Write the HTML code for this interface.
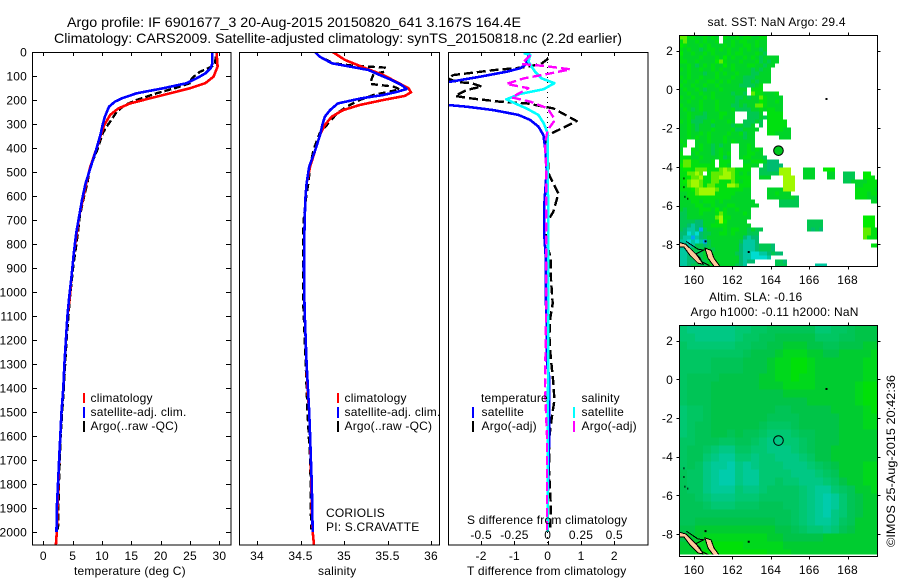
<!DOCTYPE html>
<html><head><meta charset="utf-8"><title>Argo profile</title>
<style>
html,body{margin:0;padding:0;background:#fff;width:900px;height:580px;overflow:hidden}
svg{display:block}
text{font-family:"Liberation Sans",sans-serif;font-size:12px;fill:#000;letter-spacing:.2px}
.t{font-size:14px;letter-spacing:0}
.n{letter-spacing:0}
</style></head>
<body>
<svg id="fig" xmlns="http://www.w3.org/2000/svg" width="900" height="580" viewBox="0 0 900 580">
<defs>
<clipPath id="cp1"><rect x="32" y="52" width="199" height="493"/></clipPath>
<clipPath id="cp2"><rect x="239.5" y="52" width="200" height="493"/></clipPath>
<clipPath id="cp3"><rect x="448.5" y="52" width="199.5" height="493"/></clipPath>
<clipPath id="cpm1"><rect x="679.5" y="35.5" width="198" height="231"/></clipPath>
<clipPath id="cpm2"><rect x="679.5" y="325.5" width="198" height="229"/></clipPath>
</defs>
<rect width="900" height="580" fill="#fff"/>
<text class="t" x="67" y="27" textLength="454" lengthAdjust="spacingAndGlyphs">Argo profile: IF 6901677_3 20-Aug-2015 20150820_641 3.167S 164.4E</text>
<text class="t" x="54" y="43" textLength="568" lengthAdjust="spacingAndGlyphs">Climatology: CARS2009. Satellite-adjusted climatology: synTS_20150818.nc (2.2d earlier)</text>
<g id="p1"></g>
<g id="p2"></g>
<g id="p3"></g>
<g id="m1"></g>
<g id="m2"></g>

<text x="74" y="575">temperature (deg C)</text>
<text x="318" y="575">salinity</text>
<text x="467" y="575">T difference from climatology</text>
<text x="467" y="524">S difference from climatology</text>

<g>
<rect x="83" y="393" width="2" height="10" fill="#f00"/>
<rect x="83" y="407" width="2" height="11" fill="#00f"/>
<rect x="83" y="421" width="2" height="11" fill="#000"/>
<text x="90.5" y="402">climatology</text>
<text x="90.5" y="416">satellite-adj. clim.</text>
<text x="90.5" y="430">Argo(..raw -QC)</text>
</g>
<g>
<rect x="337" y="393" width="2" height="10" fill="#f00"/>
<rect x="337" y="407" width="2" height="11" fill="#00f"/>
<rect x="337" y="421" width="2" height="11" fill="#000"/>
<text x="344.5" y="402">climatology</text>
<text x="344.5" y="416">satellite-adj. clim.</text>
<text x="344.5" y="430">Argo(..raw -QC)</text>
<text x="326" y="517">CORIOLIS</text>
<text x="326" y="531">PI: S.CRAVATTE</text>
</g>
<g>
<text x="481" y="402">temperature</text>
<text x="581.5" y="402">salinity</text>
<rect x="472" y="407" width="2" height="11" fill="#00f"/>
<rect x="472" y="421" width="2" height="11" fill="#000"/>
<rect x="573" y="407" width="2" height="11" fill="#0ff"/>
<rect x="573" y="421" width="2" height="11" fill="#f0f"/>
<text x="481.5" y="416">satellite</text>
<text x="481.5" y="430">Argo(-adj)</text>
<text x="581.5" y="416">satellite</text>
<text x="581.5" y="430">Argo(-adj)</text>
</g>

<text x="707.5" y="26">sat. SST: NaN Argo: 29.4</text>
<text x="709" y="301">Altim. SLA: -0.16</text>
<text x="690.5" y="316">Argo h1000: -0.11 h2000: NaN</text>
<text class="n" transform="translate(895,547) rotate(-90)" textLength="172" lengthAdjust="spacingAndGlyphs">©IMOS 25-Aug-2015 20:42:36</text>
</svg>
<script>
// ---------- profile data ----------
const tempTicks = [0,5,10,15,20,25,30];
const salTicks = [34,34.5,35,35.5,36];
const salTickLabels = ['34','34.5','35','35.5','36'];
const depthTicks = [0,100,200,300,400,500,600,700,800,900,1000,1100,1200,1300,1400,1500,1600,1700,1800,1900,2000];
const tDiffTicks = [-2,-1,0,1,2];
const sDiffTicks = [-0.5,-0.25,0,0.25,0.5];
const sDiffTickLabels = ['-0.5','-0.25','0','0.25','0.5'];

const tClimDepth = [0,61,103,130,151,172,193,214,235,262,304,339,408,478,547,617,686,755,839,936,1026,1100,1200,1300,1400,1500,1600,1700,1800,1900,2000,2054];
const tClimValues = [29.5,29.7,29.0,27.6,25,21.6,18.2,14.8,12.8,11.4,10.4,9.9,9,8,7.3,6.7,6.1,5.7,5.2,4.8,4.5,4.1,3.85,3.6,3.4,3.1,2.9,2.7,2.55,2.4,2.3,2.15];
const tSatDepth = [0,47,68,89,110,130,151,172,193,207,228,269,304,339,408,478,547,617,686,755,839,936,1026,1100,1200,1300,1400,1500,1600,1700,1800,1900,2000];
const tSatValues = [28.8,28.8,28.5,27.6,26.1,24.4,20.5,15.9,13.4,12.2,11.2,10.5,10.1,9.8,9,8.1,7.2,6.6,6.1,5.6,5.2,4.8,4.4,4.1,3.85,3.6,3.4,3.1,2.9,2.7,2.5,2.3,2.25];
const tArgoDepth = [20,54,68,82,110,130,151,172,186,200,221,249,283,311,339,408,478,547,617,686,755,894,1033,1200,1400,1600,1800,1990];
const tArgoValues = [29.4,29.2,28.1,26.7,25.3,25,22.4,19.3,17.6,15.9,13.9,12.5,11.6,10.8,10.1,9.2,8,7.5,6.8,6.2,5.9,5.1,4.5,3.95,3.5,2.95,2.65,2.5];

const sClimDepth = [0,33,61,96,124,151,168,183,200,221,242,269,304,339,408,478,547,617,686,755,894,1033,1100,1200,1300,1400,1500,1600,1700,1800,1900,2000,2054];
const sClimValues = [34.87,35.01,35.2,35.45,35.6,35.74,35.77,35.7,35.45,35.18,34.99,34.86,34.78,34.73,34.67,34.61,34.57,34.555,34.55,34.545,34.54,34.545,34.55,34.56,34.57,34.58,34.6,34.61,34.617,34.625,34.63,34.64,34.655];
const sSatDepth = [0,19,47,61,75,96,117,137,154,165,179,193,214,242,269,304,339,408,478,547,617,686,755,894,1033,1100,1200,1300,1400,1500,1600,1700,1800,1900,2000];
const sSatValues = [34.667,34.72,34.86,35.07,35.28,35.41,35.55,35.66,35.72,35.62,35.45,35.2,34.93,34.84,34.78,34.75,34.73,34.67,34.6,34.57,34.555,34.55,34.545,34.54,34.545,34.55,34.56,34.57,34.585,34.6,34.61,34.62,34.63,34.635,34.64];
const sArgoDepth = [30,47,57,65,82,92,110,133,144,156,179,200,228,256,297,339,408,478,547,617,686,755,894,1033,1200,1400,1500,1600,1700,1800,1900,1990];
const sArgoValues = [34.78,34.88,35.1,35.47,35.47,35.34,35.32,35.3,35.57,35.64,35.34,35.18,35.03,34.92,34.82,34.72,34.65,34.61,34.59,34.56,34.54,34.53,34.53,34.53,34.55,34.57,34.58,34.595,34.61,34.617,34.617,34.625];

const dTSatDepth = [5,33,54,68,82,103,124,151,172,200,221,228,242,262,283,311,346,408,492,630,770,850,1030,1100,1280,1350,1640,1800,2000];
const dTSatValues = [-0.58,-0.58,-0.68,-0.83,-1.23,-2.03,-2.93,-4.5,-5.7,-5,-3,-2.43,-1.63,-0.88,-0.53,-0.28,-0.13,-0.07,-0.03,-0.1,-0.1,-0.06,-0.06,-0.03,-0.03,0.04,0.04,0.01,0];
const dTArgoDepth = [27,50,64,75,96,110,125,130,144,158,183,193,207,214,235,288,332,346,367,506,520,589,665,700,783,860,950,1047,1117,1186,1270,1381,1450,1526,1603,1742,1880,1984];
const dTArgoValues = [0.02,-0.2,-0.73,-1.58,-2.83,-3,-2.73,-2.28,-1.98,-2.43,-2.78,-2.33,-1.43,-0.63,0.17,0.87,0.22,0.02,-0.03,0.03,0.07,0.32,0.17,0.02,-0.05,0.09,0.1,0.15,0.07,0.05,0.09,0.17,0.2,0.12,0.05,0.04,0.09,0.08];
const dSSatDepth = [5,12,40,82,110,130,155,175,197,214,235,262,297,339,478,800,1200,1600,2000];
const dSSatValues = [-0.18,-0.13,-0.145,-0.095,-0.045,0.05,-0.03,-0.21,-0.31,-0.245,-0.16,-0.07,-0.03,0,0,0.005,0.005,0,0];
const dSArgoDepth = [12,50,58,72,89,110,133,151,189,207,235,283,325,380,478,700,1000,1200,1400,1600,1800,2000];
const dSArgoValues = [-0.13,-0.195,-0.03,0.17,0.02,-0.18,-0.31,-0.145,-0.27,-0.13,0,0.055,0,-0.02,-0.012,-0.01,-0.01,-0.015,-0.02,-0.005,-0.005,-0.005];

// ---------- map data (one char per cell; "start:values" runs, gaps are missing data) ----------
const sstRows = [
"0:5533223232 11:32232332233","0:3522323223 11:22323322322","0:4322232322232322332322","0:3232212332323223232212",
"0:4223223232223233222321","0:3222232223242322323212222","0:3322322224532223222312122","0:223212323224232223322122",
"0:32322322323223222212122","0:22322212232322322211222","0:32322322232223221112222","0:23223223323232221121222",
"0:322322322322222111123","0:23223212223222222 18:333","0:22322322322221221 18:5332223","0:32232232322222112122532222",
"0:22322322232222122222432232","0:32222322232221121225532222","0:23212322232223111122323322","0:22322212223322 17:1112 22:3333",
"0:22321112223222 17:11121 22:3333","0:32311122322232 16:11121 22:33333","0:2232122212222122112 20:1 22:33333","0:22321222322223112222 22:333322",
"0:2232232322223223122 22:332222","0:2232322322232222122 25:222","0:32 4:222322232322222","0:23 4:232212122 15:2232",
"0:2 3:3232212322 15:223232","0:3 3:2322212323 15:223322","0:3332232222312 15:2332221","0:355332223 10:333 16:223332 22:000",
"0:455333333 10:332 16:3322 21:10000","0:344355533356553333 20:11000 25:666 31:222 36:444","0:335565 7:35556653232 20:11111 25:666 31:222 37:22 41:111 46:44","0:334556335566653333 20:222 26:666 31:222 37:22 41:111 46:443",
"0:345665335533353233 26:666 41:112222333","0:335665355333665333 26:666 44:223333","0:333456666533333322 22:2222 26:666 44:333332","0:223356666333332222 22:223222 44:333233",
"0:223333333333322222 22:22222221 44:333222","0:2223323332322222222 25:11111 48:22","0:22223322322233222222 25:11111","0:212223332423223222",
"0:112223222353222232","0:112222222563322222 46:444","0:11110022236422222 32:1111 46:444","0:110700223333222222 32:1111 46:444",
"0:107709122223233221211 32:1010 46:5533","0:00878011223323222111 46:5533","0:07797012222222220700 46:5333","0:77878791222222217770",
"0:70771101222222207770 20:1110 48:33","0:77711122122222207770 20:1110","0:77011122222222107788770100","0:77011122222222207788887",
"0:7700111222222220700 24:110","0:77011112222222107 24:111 34:777"
];
const sstPalette = ['#00bc70','#00c850','#00d428','#00e010','#00ec00','#60ec00','#a0f800','#00c8a0','#00dcd0','#00a8f0'];
const slaRows = [
"3222222334455555533445666","3322222344556666644455666","4333333445566777665566677","4444444456667888776677778",
"4444555566678899877777788","4444555566678899877777788","4555566666778898877777788","4555666666777888877777899",
"4555666666666777777777899","4555666666666666777777899","3445666666665566666777789","3445666666655556666677788",
"3455666666544456666677788","3455665655433345566677777","4455544554322334566677777","4554322443322234566777777",
"4553211332332223466777777","4542110212333222345677788","5442100211333322234577788","5442100211334332223467788",
"5442111322344443211345778","5543222333444443210135677","5554333444555443210135677","5555555555555543210235677",
"5566666666665543211245777","6677777777776654332356777","6778888888877666667777777","7788999988888777777777777","7789999999988877777777777"
];
const slaPalette = ['#00ccac','#00ca98','#00c884','#00c872','#00c662','#00c456','#00c448','#00cc30','#00d81c','#00e008'];
const lonTicks = [160,162,164,166,168];
const latTicks = [2,0,-2,-4,-6,-8];
const coastA = [[159.22,-7.9],[159.58,-8.0],[159.9,-8.31],[160.31,-8.72],[160.47,-9.03],[160.21,-8.98],[159.79,-8.57],[159.48,-8.15],[159.22,-8.15]];
const coastB = [[160.57,-8.2],[160.89,-8.31],[161.04,-8.72],[161.35,-9.14],[161.04,-9.14],[160.73,-8.72]];
const reefLine = [[159.6,-7.85],[160.2,-8.25],[160.5,-8.3],[160.1,-8.5],[160.4,-8.9],[160.8,-9.1]];
const islets = [[160.6,-7.85],[166.9,-0.5],[162.85,-8.4]];
const specks = [[159.45,-4.55],[159.45,-5.0],[159.5,-5.5],[159.65,-5.6]];
const argoLon = 164.4;
const argoLat = -3.167;

// ---------- axis functions ----------
const NS='http://www.w3.org/2000/svg';
const depthY = d => 52 + 0.24*d;
const tempX = v => 43.3 + 5.87*v;
const salX = v => 257 + 87*(v-34);
const dTX = v => 547.7 + 33.3*v;
const dSX = v => 547.7 + 133.2*v;
const lonX = v => 694 + 19.2*(v-160);
const lat1Y = v => 89.3 - 19.37*v;
const lat2Y = v => 379.3 - 19.34*v;

function mk(parent, tag, attrs, txt){
  const e=document.createElementNS(NS,tag);
  for(const k in attrs) e.setAttribute(k,attrs[k]);
  if(txt!==undefined) e.textContent=txt;
  parent.appendChild(e);
  return e;
}
function series(parent, clip, xs, ds, xf, color, width, dash, name){
  const pts=xs.map((v,i)=>xf(v).toFixed(1)+','+depthY(ds[i]).toFixed(1)).join(' ');
  const attrs={points:pts,fill:'none',stroke:color,'stroke-width':width,'clip-path':'url(#'+clip+')','shape-rendering':'crispEdges','stroke-linejoin':'round'};
  if(dash) attrs['stroke-dasharray']=dash;
  const line=mk(parent,'polyline',attrs);
  
  
}
function frame(parent,x,y,w,h){
  const r=mk(parent,'rect',{x:x,y:y,width:w,height:h,fill:'none',stroke:'#000','stroke-width':1,'shape-rendering':'crispEdges'});
  
  
}
function tick(parent,x1,y1,x2,y2){
  const l=mk(parent,'line',{x1:x1,y1:y1,x2:x2,y2:y2,stroke:'#000','stroke-width':1,'shape-rendering':'crispEdges'});
  
  
}
function label(parent,x,y,s,anchor){
  const t=mk(parent,'text',{x:x,y:y,'text-anchor':anchor},s);
  
  
}
const T=52, B=545;

// ---------- temperature panel ----------
const p1=document.getElementById('p1');
series(p1,'cp1',tArgoValues,tArgoDepth,tempX,'#000',2.4,'7 3','temperature-argo-line');
series(p1,'cp1',tClimValues,tClimDepth,tempX,'#f00',2.6,null,'temperature-climatology-line');
series(p1,'cp1',tSatValues,tSatDepth,tempX,'#00f',2.6,null,'temperature-satellite-line');
frame(p1,32.5,52.5,198.5,492.5);
tempTicks.forEach(v=>{const x=Math.round(tempX(v))+.5;tick(p1,x,T,x,T+4);tick(p1,x,B,x,B-4);label(p1,tempX(v),560,String(v),'middle');});
depthTicks.forEach(v=>{const y=Math.round(depthY(v))+.5;tick(p1,32,y,37,y);tick(p1,231,y,226,y);label(p1,27,depthY(v)+4.5,String(v),'end');});

// ---------- salinity panel ----------
const p2=document.getElementById('p2');
series(p2,'cp2',sArgoValues,sArgoDepth,salX,'#000',2.4,'7 4','salinity-argo-line');
series(p2,'cp2',sClimValues,sClimDepth,salX,'#f00',2.6,null,'salinity-climatology-line');
series(p2,'cp2',sSatValues,sSatDepth,salX,'#00f',2.6,null,'salinity-satellite-line');
frame(p2,239.5,52.5,200,492.5);
salTicks.forEach((v,i)=>{const x=Math.round(salX(v))+.5;tick(p2,x,T,x,T+4);tick(p2,x,B,x,B-4);label(p2,salX(v),560,salTickLabels[i],'middle');});

// ---------- difference panel ----------
const p3=document.getElementById('p3');
const zero=mk(p3,'line',{x1:dTX(0),y1:T,x2:dTX(0),y2:B,stroke:'#000','stroke-width':1,'stroke-dasharray':'1 4','shape-rendering':'crispEdges'});


series(p3,'cp3',dTArgoValues,dTArgoDepth,dTX,'#000',2.4,'9 4','t-difference-argo-line');
series(p3,'cp3',dTSatValues,dTSatDepth,dTX,'#00f',2.6,null,'t-difference-satellite-line');
series(p3,'cp3',dSSatValues,dSSatDepth,dSX,'#0ff',2.6,null,'s-difference-satellite-line');
series(p3,'cp3',dSArgoValues,dSArgoDepth,dSX,'#f0f',2.4,'9 4','s-difference-argo-line');
frame(p3,448.5,52.5,199.5,492.5);
tDiffTicks.forEach((v,i)=>{const x=Math.round(dTX(v))+.5;tick(p3,x,T,x,T+4);tick(p3,x,B,x,B-4);label(p3,dTX(v),560,String(v),'middle');label(p3,dSX(sDiffTicks[i]),539,sDiffTickLabels[i],'middle');});

// ---------- maps ----------
function coast(g,latY,clip){
  [coastA,coastB].forEach(c=>{
    const poly=mk(g,'polygon',{points:c.map(p=>lonX(p[0]).toFixed(1)+','+latY(p[1]).toFixed(1)).join(' '),fill:'#ffc89a',stroke:'#000','stroke-width':1,'clip-path':'url(#'+clip+')','shape-rendering':'crispEdges'});
    
    
  });
  const reef=mk(g,'polyline',{points:reefLine.map(p=>lonX(p[0]).toFixed(1)+','+latY(p[1]).toFixed(1)).join(' '),fill:'none',stroke:'#000','stroke-width':1,'clip-path':'url(#'+clip+')','shape-rendering':'crispEdges'});
  
  
  islets.forEach(p=>{
    const r=mk(g,'rect',{x:lonX(p[0])-1,y:latY(p[1])-1,width:2,height:2,fill:'#000'});
    
    
  });
  specks.forEach(p=>{
    const r=mk(g,'rect',{x:lonX(p[0]),y:latY(p[1]),width:1,height:2,fill:'#000'});
    
    
  });
}
function mapAxes(g,x0,y0,w,h,latY,lonLabelY){
  frame(g,x0,y0,w,h);
  lonTicks.forEach(v=>{const x=Math.round(lonX(v))+.5;tick(g,x,y0,x,y0-3);tick(g,x,y0+h,x,y0+h+3);label(g,lonX(v),lonLabelY,String(v),'middle');});
  latTicks.forEach(v=>{const y=Math.round(latY(v))+.5;tick(g,x0,y,x0-3,y);tick(g,x0+w,y,x0+w+3,y);label(g,673,latY(v)+4.5,String(v),'end');});
}
const m1=document.getElementById('m1');
sstRows.forEach((row,r)=>{
  row.split(' ').forEach(run=>{
    const parts=run.split(':');
    const start=parseInt(parts[0],10);
    for(let i=0;i<parts[1].length;i++){
      const c=mk(m1,'rect',{x:lonX(159.219+(start+i)*4/19.2),y:lat1Y(2.776-r*4/19.37),width:4,height:4,fill:sstPalette[+parts[1][i]],'clip-path':'url(#cpm1)','shape-rendering':'crispEdges'});
      
      
    }
  });
});
coast(m1,lat1Y,'cpm1');
const ar1=mk(m1,'circle',{cx:lonX(argoLon),cy:lat1Y(argoLat),r:4.8,fill:'#00c81e',stroke:'#000','stroke-width':1});


mapAxes(m1,679.5,35.5,198,231,lat1Y,284);

const m2=document.getElementById('m2');
slaRows.forEach((row,r)=>{
  for(let i=0;i<row.length;i++){
    const c=mk(m2,'rect',{x:lonX(159.219+i*8/19.2),y:lat2Y(2.79-r*8/19.34),width:8,height:8,fill:slaPalette[+row[i]],'clip-path':'url(#cpm2)','shape-rendering':'crispEdges'});
    
    
  }
});
coast(m2,lat2Y,'cpm2');
const ar2=mk(m2,'circle',{cx:lonX(argoLon),cy:lat2Y(argoLat),r:4.8,fill:'none',stroke:'#000','stroke-width':1});


mapAxes(m2,679.5,325.5,198,231,lat2Y,574);
</script>
</body></html>
